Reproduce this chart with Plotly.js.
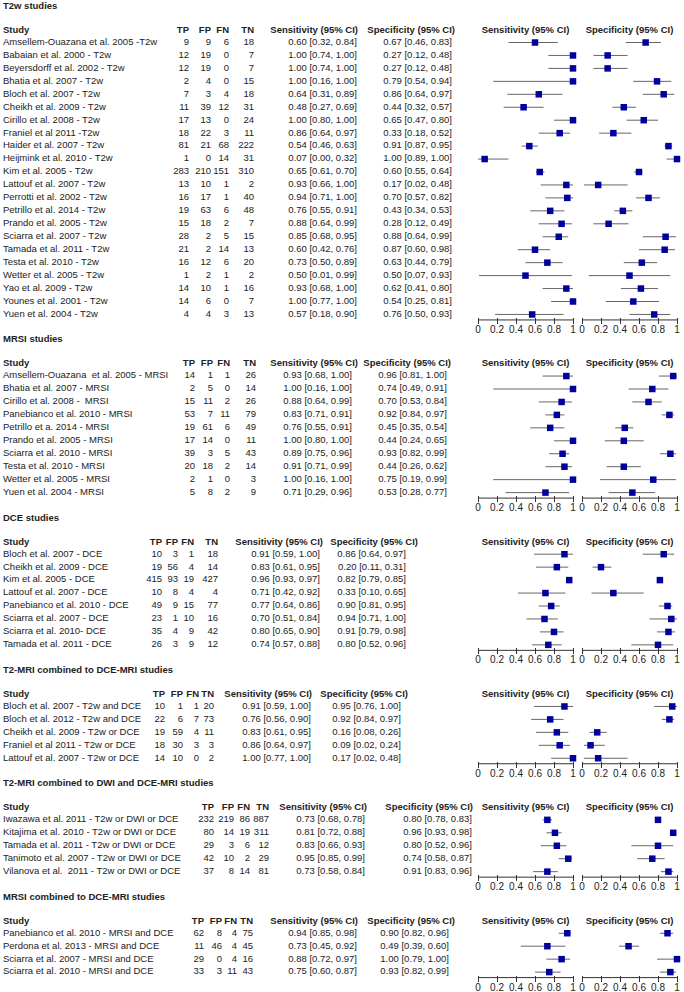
<!DOCTYPE html>
<html>
<head>
<meta charset="utf-8">
<script src="https://cdn.plot.ly/plotly-3.0.1.min.js"></script>
<style>
  body { margin: 0; background: #fff; }
  #plot { width: 684px; height: 992px; }
</style>
</head>
<body>
<div id="plot"></div>
<script>
// ---- data ----
var sectionTitles = ['T2w studies', 'MRSI studies', 'DCE studies',
  'T2-MRI combined to DCE-MRI studies', 'T2-MRI combined to DWI and DCE-MRI studies',
  'MRSI combined to DCE-MRI studies'];

var t2wStudy = ['Amsellem-Ouazana et al. 2005 -T2w', 'Babaian et al. 2000 - T2w', 'Beyersdorff et al. 2002 - T2w',
  'Bhatia et al. 2007 - T2w', 'Bloch et al. 2007 - T2w', 'Cheikh et al. 2009 - T2w', 'Cirillo et al. 2008 - T2w',
  'Franiel et al 2011 -T2w', 'Haider et al. 2007 - T2w', 'Heijmink et al. 2010 - T2w', 'Kim et al. 2005 - T2w',
  'Lattouf et al. 2007 - T2w', 'Perrotti et al. 2002 - T2w', 'Petrillo et al. 2014 - T2w', 'Prando et al. 2005 - T2w',
  'Sciarra et al. 2007 - T2w', 'Tamada et al. 2011 - T2w', 'Testa et al. 2010 - T2w', 'Wetter et al. 2005 - T2w',
  'Yao et al. 2009 - T2w', 'Younes et al. 2001 - T2w', 'Yuen et al. 2004 - T2w'];
var t2wTP = [9, 12, 12, 2, 7, 11, 17, 18, 81, 1, 283, 13, 16, 19, 15, 28, 21, 16, 1, 14, 14, 4];
var t2wFP = [9, 19, 19, 4, 3, 39, 13, 22, 21, 0, 210, 10, 17, 63, 18, 2, 2, 12, 2, 10, 6, 4];
var t2wFN = [6, 0, 0, 0, 4, 12, 0, 3, 68, 14, 151, 1, 1, 6, 2, 5, 14, 6, 1, 1, 0, 3];
var t2wTN = [18, 7, 7, 15, 18, 31, 24, 11, 222, 31, 310, 2, 40, 48, 7, 15, 13, 20, 2, 16, 7, 13];
var t2wSens = [0.60, 1.00, 1.00, 1.00, 0.64, 0.48, 1.00, 0.86, 0.54, 0.07, 0.65, 0.93, 0.94, 0.76, 0.88, 0.85, 0.60, 0.73, 0.50, 0.93, 1.00, 0.57];
var t2wSensLo = [0.32, 0.74, 0.74, 0.16, 0.31, 0.27, 0.80, 0.64, 0.46, 0.00, 0.61, 0.66, 0.71, 0.55, 0.64, 0.68, 0.42, 0.50, 0.01, 0.68, 0.77, 0.18];
var t2wSensHi = [0.84, 1.00, 1.00, 1.00, 0.89, 0.69, 1.00, 0.97, 0.63, 0.32, 0.70, 1.00, 1.00, 0.91, 0.99, 0.95, 0.76, 0.89, 0.99, 1.00, 1.00, 0.90];
var t2wSpec = [0.67, 0.27, 0.27, 0.79, 0.86, 0.44, 0.65, 0.33, 0.91, 1.00, 0.60, 0.17, 0.70, 0.43, 0.28, 0.88, 0.87, 0.63, 0.50, 0.62, 0.54, 0.76];
var t2wSpecLo = [0.46, 0.12, 0.12, 0.54, 0.64, 0.32, 0.47, 0.18, 0.87, 0.89, 0.55, 0.02, 0.57, 0.34, 0.12, 0.64, 0.60, 0.44, 0.07, 0.41, 0.25, 0.50];
var t2wSpecHi = [0.83, 0.48, 0.48, 0.94, 0.97, 0.57, 0.80, 0.52, 0.95, 1.00, 0.64, 0.48, 0.82, 0.53, 0.49, 0.99, 0.98, 0.79, 0.93, 0.80, 0.81, 0.93];

var mrsiStudy = ['Amsellem-Ouazana  et al. 2005 - MRSI', 'Bhatia et al. 2007 - MRSI', 'Cirillo et al. 2008 -  MRSI',
  'Panebianco et al. 2010 - MRSI', 'Petrillo et a. 2014 - MRSI', 'Prando et al. 2005 - MRSI', 'Sciarra et al. 2010 - MRSI',
  'Testa et al. 2010 - MRSI', 'Wetter et al. 2005 - MRSI', 'Yuen et al. 2004 - MRSI'];
var mrsiTP = [14, 2, 15, 53, 19, 17, 39, 20, 2, 5];
var mrsiFP = [1, 5, 11, 7, 61, 14, 3, 18, 1, 8];
var mrsiFN = [1, 0, 2, 11, 6, 0, 5, 2, 0, 2];
var mrsiTN = [26, 14, 26, 79, 49, 11, 43, 14, 3, 9];
var mrsiSens = [0.93, 1.00, 0.88, 0.83, 0.76, 1.00, 0.89, 0.91, 1.00, 0.71];
var mrsiSensLo = [0.68, 0.16, 0.64, 0.71, 0.55, 0.80, 0.75, 0.71, 0.16, 0.29];
var mrsiSensHi = [1.00, 1.00, 0.99, 0.91, 0.91, 1.00, 0.96, 0.99, 1.00, 0.96];
var mrsiSpec = [0.96, 0.74, 0.70, 0.92, 0.45, 0.44, 0.93, 0.44, 0.75, 0.53];
var mrsiSpecLo = [0.81, 0.49, 0.53, 0.84, 0.35, 0.24, 0.82, 0.26, 0.19, 0.28];
var mrsiSpecHi = [1.00, 0.91, 0.84, 0.97, 0.54, 0.65, 0.99, 0.62, 0.99, 0.77];

var dceStudy = ['Bloch et al. 2007 - DCE', 'Cheikh et al. 2009 - DCE', 'Kim et al. 2005 - DCE', 'Lattouf et al. 2007 - DCE',
  'Panebianco et al. 2010 - DCE', 'Sciarra et al. 2007 - DCE', 'Sciarra et al. 2010- DCE', 'Tamada et al. 2011 - DCE'];
var dceTP = [10, 19, 415, 10, 49, 23, 35, 26];
var dceFP = [3, 56, 93, 8, 9, 1, 4, 3];
var dceFN = [1, 4, 19, 4, 15, 10, 9, 9];
var dceTN = [18, 14, 427, 4, 77, 16, 42, 12];
var dceSens = [0.91, 0.83, 0.96, 0.71, 0.77, 0.70, 0.80, 0.74];
var dceSensLo = [0.59, 0.61, 0.93, 0.42, 0.64, 0.51, 0.65, 0.57];
var dceSensHi = [1.00, 0.95, 0.97, 0.92, 0.86, 0.84, 0.90, 0.88];
var dceSpec = [0.86, 0.20, 0.82, 0.33, 0.90, 0.94, 0.91, 0.80];
var dceSpecLo = [0.64, 0.11, 0.79, 0.10, 0.81, 0.71, 0.79, 0.52];
var dceSpecHi = [0.97, 0.31, 0.85, 0.65, 0.95, 1.00, 0.98, 0.96];

var t2dceStudy = ['Bloch et al. 2007 - T2w and DCE', 'Bloch et al. 2012 - T2w and DCE', 'Cheikh et al. 2009 - T2w or DCE',
  'Franiel et al 2011 - T2w or DCE', 'Lattouf et al. 2007 - T2w or DCE'];
var t2dceTP = [10, 22, 19, 18, 14];
var t2dceFP = [1, 6, 59, 30, 10];
var t2dceFN = [1, 7, 4, 3, 0];
var t2dceTN = [20, 73, 11, 3, 2];
var t2dceSens = [0.91, 0.76, 0.83, 0.86, 1.00];
var t2dceSensLo = [0.59, 0.56, 0.61, 0.64, 0.77];
var t2dceSensHi = [1.00, 0.90, 0.95, 0.97, 1.00];
var t2dceSpec = [0.95, 0.92, 0.16, 0.09, 0.17];
var t2dceSpecLo = [0.76, 0.84, 0.08, 0.02, 0.02];
var t2dceSpecHi = [1.00, 0.97, 0.26, 0.24, 0.48];

var dwiStudy = ['Iwazawa et al. 2011 - T2w or DWI or DCE', 'Kitajima et al. 2010 - T2w or DWI or DCE',
  'Tamada et al. 2011 - T2w or DWI or DCE', 'Tanimoto et al. 2007 - T2w or DWI or DCE',
  'Vilanova et al.  2011 - T2w or DWI or DCE'];
var dwiTP = [232, 80, 29, 42, 37];
var dwiFP = [219, 14, 3, 10, 8];
var dwiFN = [86, 19, 6, 2, 14];
var dwiTN = [887, 311, 12, 29, 81];
var dwiSens = [0.73, 0.81, 0.83, 0.95, 0.73];
var dwiSensLo = [0.68, 0.72, 0.66, 0.85, 0.58];
var dwiSensHi = [0.78, 0.88, 0.93, 0.99, 0.84];
var dwiSpec = [0.80, 0.96, 0.80, 0.74, 0.91];
var dwiSpecLo = [0.78, 0.93, 0.52, 0.58, 0.83];
var dwiSpecHi = [0.83, 0.98, 0.96, 0.87, 0.96];

var mrdceStudy = ['Panebianco et al. 2010 - MRSI and DCE', 'Perdona et al. 2013 - MRSI and DCE',
  'Sciarra et al. 2007 - MRSI and DCE', 'Sciarra et al. 2010 - MRSI and DCE'];
var mrdceTP = [62, 11, 29, 33];
var mrdceFP = [8, 46, 0, 3];
var mrdceFN = [4, 4, 4, 11];
var mrdceTN = [75, 45, 16, 43];
var mrdceSens = [0.94, 0.73, 0.88, 0.75];
var mrdceSensLo = [0.85, 0.45, 0.72, 0.60];
var mrdceSensHi = [0.98, 0.92, 0.97, 0.87];
var mrdceSpec = [0.90, 0.49, 1.00, 0.93];
var mrdceSpecLo = [0.82, 0.39, 0.79, 0.82];
var mrdceSpecHi = [0.96, 0.60, 1.00, 0.99];

var colHeads = ['TP', 'FP', 'FN', 'TN', 'Sensitivity (95% CI)', 'Specificity (95% CI)'];
var tickVals = [0, 0.2, 0.4, 0.6, 0.8, 1];
var tickText = ['0', '0.2', '0.4', '0.6', '0.8', '1'];

var groups = [
  [t2wStudy, t2wTP, t2wFP, t2wFN, t2wTN, t2wSens, t2wSensLo, t2wSensHi, t2wSpec, t2wSpecLo, t2wSpecHi],
  [mrsiStudy, mrsiTP, mrsiFP, mrsiFN, mrsiTN, mrsiSens, mrsiSensLo, mrsiSensHi, mrsiSpec, mrsiSpecLo, mrsiSpecHi],
  [dceStudy, dceTP, dceFP, dceFN, dceTN, dceSens, dceSensLo, dceSensHi, dceSpec, dceSpecLo, dceSpecHi],
  [t2dceStudy, t2dceTP, t2dceFP, t2dceFN, t2dceTN, t2dceSens, t2dceSensLo, t2dceSensHi, t2dceSpec, t2dceSpecLo, t2dceSpecHi],
  [dwiStudy, dwiTP, dwiFP, dwiFN, dwiTN, dwiSens, dwiSensLo, dwiSensHi, dwiSpec, dwiSpecLo, dwiSpecHi],
  [mrdceStudy, mrdceTP, mrdceFP, mrdceFN, mrdceTN, mrdceSens, mrdceSensLo, mrdceSensHi, mrdceSpec, mrdceSpecLo, mrdceSpecHi]
];

// ---- layout (pixels) ----
var W = 684, H = 992, ROW = 12.95, FIRST_ROW = 42.5, GAP = 61.6;
// right edges of TP, FP, FN, TN, sensitivity, specificity values per section
var colRight = [
  [189, 211, 229, 254, 357, 452],
  [195, 213, 230, 256, 352, 447],
  [162, 178, 194, 218, 320, 406],
  [165, 183, 199, 214, 311, 401],
  [214, 234, 250, 269, 365, 472],
  [204, 222, 237, 253, 357, 449]
];
// right edges of the sensitivity / specificity headers
var headRight = [
  [358, 455],
  [358, 451],
  [323, 418],
  [312, 408],
  [367, 473],
  [358, 455]
];
var sensDom = [478, 573], specDom = [582, 677];
var FONT = 'Liberation Sans, Arial, sans-serif';
var txtColor = '#222';

function ci(est, lo, hi) {
  return est.toFixed(2) + ' [' + lo.toFixed(2) + ', ' + hi.toFixed(2) + ']';
}

var data = [], shapes = [];
var layout = {
  width: W, height: H,
  margin: {l: 0, r: 0, t: 0, b: 0},
  paper_bgcolor: '#fff', plot_bgcolor: 'rgba(0,0,0,0)',
  showlegend: false,
  font: {family: FONT, size: 9.5, color: txtColor}
};

var leftX = [], leftY = [], leftT = [];
var rightX = [], rightY = [], rightT = [];
var midX = [], midY = [], midT = [];

var first = FIRST_ROW;
groups.forEach(function (g, s) {
  var n = g[0].length;
  var last = first + (n - 1) * ROW;
  var cols = colRight[s];

  // section title and header row
  leftX.push(3); leftY.push(first - 36); leftT.push('<b>' + sectionTitles[s] + '</b>');
  leftX.push(3); leftY.push(first - 12); leftT.push('<b>Study</b>');
  colHeads.forEach(function (h, c) {
    var hx = c < 4 ? cols[c] : headRight[s][c - 4];
    rightX.push(hx); rightY.push(first - 12); rightT.push('<b>' + h + '</b>');
  });
  midX.push((sensDom[0] + sensDom[1]) / 2); midY.push(first - 12); midT.push('<b>Sensitivity (95% CI)</b>');
  midX.push((specDom[0] + specDom[1]) / 2); midY.push(first - 12); midT.push('<b>Specificity (95% CI)</b>');

  // table rows
  for (var i = 0; i < n; i++) {
    var y = first + i * ROW;
    leftX.push(3); leftY.push(y); leftT.push(g[0][i]);
    var vals = [g[1][i], g[2][i], g[3][i], g[4][i],
      ci(g[5][i], g[6][i], g[7][i]), ci(g[8][i], g[9][i], g[10][i])];
    vals.forEach(function (v, c) {
      rightX.push(cols[c]); rightY.push(y); rightT.push(String(v));
    });
  }

  // forest panels
  var idx = [];
  for (var k = 0; k < n; k++) idx.push(k);
  var padBot = 2.5;
  var domTop = 1 - (first - 6.5) / H, domBot = 1 - (last + padBot) / H;
  [[sensDom, 5], [specDom, 8]].forEach(function (p, j) {
    var a = 2 * s + j + 1;
    var xa = 'xaxis' + (a === 1 ? '' : a), ya = 'yaxis' + (a === 1 ? '' : a);
    var xr = 'x' + (a === 1 ? '' : a), yr = 'y' + (a === 1 ? '' : a);
    var est = g[p[1]], lo = g[p[1] + 1], hi = g[p[1] + 2];
    data.push({
      type: 'scatter', mode: 'markers', xaxis: xr, yaxis: yr,
      x: est, y: idx, cliponaxis: false, hoverinfo: 'skip',
      marker: {symbol: 'square', size: 6.5, color: '#00009c', line: {width: 0}},
      error_x: {
        type: 'data', symmetric: false, width: 0, thickness: 1, color: '#666',
        array: est.map(function (e, q) { return hi[q] - e; }),
        arrayminus: est.map(function (e, q) { return e - lo[q]; })
      }
    });
    layout[xa] = {
      domain: [p[0][0] / W, p[0][1] / W], range: [0, 1], anchor: yr,
      tickmode: 'array', tickvals: tickVals, ticktext: tickText,
      ticks: 'outside', ticklen: 6, tickwidth: 1, tickcolor: '#333',
      ticklabelstandoff: -3,
      showgrid: false, zeroline: false, showline: false,
      tickfont: {family: FONT, size: 10, color: txtColor}, fixedrange: true
    };
    layout[ya] = {
      domain: [domBot, domTop], range: [n - 1 + padBot / ROW, -6.5 / ROW], anchor: xr,
      visible: false, fixedrange: true
    };
    // axis line running through the middle of the ticks
    shapes.push({
      type: 'line', xref: xr + ' domain', yref: yr + ' domain',
      x0: 0, x1: 1, ysizemode: 'pixel', yanchor: 0, y0: -3, y1: -3,
      line: {color: '#333', width: 1}
    });
  });

  first = last + GAP;
});

// page-wide text layer
layout.xaxis13 = {domain: [0, 1], range: [0, W], visible: false, fixedrange: true, anchor: 'y13'};
layout.yaxis13 = {domain: [0, 1], range: [H, 0], visible: false, fixedrange: true, anchor: 'x13'};
var tfont = {family: FONT, size: 9.5, color: txtColor};
data.push({type: 'scatter', mode: 'text', xaxis: 'x13', yaxis: 'y13', x: leftX, y: leftY, text: leftT,
  textposition: 'middle right', textfont: tfont, cliponaxis: false, hoverinfo: 'skip'});
data.push({type: 'scatter', mode: 'text', xaxis: 'x13', yaxis: 'y13', x: rightX, y: rightY, text: rightT,
  textposition: 'middle left', textfont: tfont, cliponaxis: false, hoverinfo: 'skip'});
data.push({type: 'scatter', mode: 'text', xaxis: 'x13', yaxis: 'y13', x: midX, y: midY, text: midT,
  textposition: 'middle center', textfont: tfont, cliponaxis: false, hoverinfo: 'skip'});

layout.shapes = shapes;

Plotly.newPlot('plot', data, layout, {staticPlot: true, displayModeBar: false});
</script>
</body>
</html>
